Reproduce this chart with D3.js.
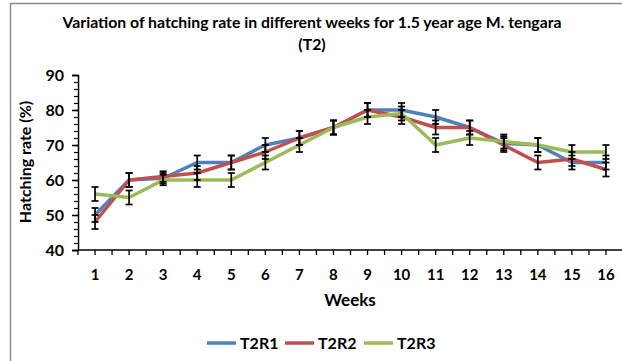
<!DOCTYPE html>
<html>
<head>
<meta charset="utf-8">
<script src="https://cdnjs.cloudflare.com/ajax/libs/d3/7.8.5/d3.min.js"></script>
<style>
  body { margin: 0; background: #fff; }
  svg { display: block; font-family: Lato, "Open Sans", sans-serif; }
</style>
</head>
<body>
<svg id="chart" width="622" height="361"></svg>
<script>
const weeks = [1, 2, 3, 4, 5, 6, 7, 8, 9, 10, 11, 12, 13, 14, 15, 16];
const seriesNames = ['T2R1', 'T2R2', 'T2R3'];
const t2r1 = [50, 60, 60.5, 65, 65, 70, 72, 75, 80, 80, 78, 75, 70.5, 70, 65, 65];
const t2r2 = [48, 60, 61, 62, 65, 68, 72, 75, 80, 78, 75, 75, 70, 65, 66, 63];
const t2r3 = [56, 55, 60, 60, 60, 65, 70, 75, 78, 79, 70, 72, 71, 70, 68, 68];
const t2r1Err = [2, 2, 1.5, 2, 2, 2, 2, 2, 2, 2, 2, 2, 2, 2, 2, 2];
const t2r2Err = [2, 2, 1.5, 2, 2, 2, 2, 2, 2, 2, 2, 2, 2, 2, 2, 2];
const t2r3Err = [2, 2, 1.5, 2, 2, 2, 2, 2, 2, 2, 2, 2, 2, 2, 2, 2];
const yTicks = [40, 50, 60, 70, 80, 90];
const colors = ['#4F81BD', '#C0504D', '#9BBB59'];

const series = [
    { name: seriesNames[0], values: t2r1, err: t2r1Err, color: colors[0] },
    { name: seriesNames[1], values: t2r2, err: t2r2Err, color: colors[1] },
    { name: seriesNames[2], values: t2r3, err: t2r3Err, color: colors[2] }
];

const svg = d3.select('#chart');

// chart frame like the excel border
svg.append('rect')
    .attr('x', 10.5).attr('y', 3.5)
    .attr('width', 640).attr('height', 400)
    .attr('fill', 'none')
    .attr('stroke', '#8c8c8c')
    .attr('stroke-width', 1.5);

// title
svg.append('text')
    .attr('x', 312).attr('y', 28)
    .attr('text-anchor', 'middle')
    .style('font-size', '15.8px').style('font-weight', 'bold')
    .text('Variation of hatching rate in different weeks for 1.5 year age M. tengara');
svg.append('text')
    .attr('x', 312).attr('y', 50)
    .attr('text-anchor', 'middle')
    .style('font-size', '15.8px').style('font-weight', 'bold')
    .text('(T2)');

// scales
const x = d3.scaleBand()
    .domain(weeks)
    .range([78, 623]);

const y = d3.scaleLinear()
    .domain([40, 90])
    .range([250, 75]);

// y axis with minor ticks
const yMinor = d3.axisLeft(y)
    .tickValues(d3.range(40, 91, 2))
    .tickSize(4)
    .tickFormat('');
svg.append('g')
    .attr('transform', 'translate(78,0)')
    .call(yMinor)
    .call(g => g.select('.domain').remove())
    .selectAll('line').attr('stroke', '#000').attr('stroke-width', 1.2);

const yAxis = d3.axisLeft(y)
    .tickValues(yTicks)
    .tickSize(6)
    .tickPadding(8);
const yg = svg.append('g')
    .attr('transform', 'translate(78,0)')
    .call(yAxis);
yg.select('.domain').attr('stroke', '#000').attr('stroke-width', 1.5);
yg.selectAll('line').attr('stroke', '#000').attr('stroke-width', 1.5);
yg.selectAll('text')
    .style('font-family', 'Lato, sans-serif')
    .style('font-size', '16px').style('font-weight', 'bold')
    .attr('fill', '#000');

// x axis: ticks at category edges and centres
const xEdges = weeks.map(w => x(w)).concat([x.range()[1]]);
const xCentres = weeks.map(w => x(w) + x.bandwidth() / 2);
const xg = svg.append('g').attr('transform', 'translate(0,250)');
xg.append('line')
    .attr('x1', 78).attr('x2', 623)
    .attr('stroke', '#000').attr('stroke-width', 1.5);
xg.selectAll('line.tick')
    .data(xEdges.concat(xCentres))
    .enter().append('line')
    .attr('class', 'tick')
    .attr('x1', d => d).attr('x2', d => d)
    .attr('y1', 0).attr('y2', 5)
    .attr('stroke', '#000').attr('stroke-width', 1.3);
xg.selectAll('text')
    .data(weeks)
    .enter().append('text')
    .attr('x', d => x(d) + x.bandwidth() / 2)
    .attr('y', 30)
    .attr('text-anchor', 'middle')
    .style('font-size', '15px').style('font-weight', 'bold')
    .text(d => d);

// axis titles
svg.append('text')
    .attr('x', 350).attr('y', 306)
    .attr('text-anchor', 'middle')
    .style('font-size', '17px').style('font-weight', 'bold')
    .text('Weeks');
svg.append('text')
    .attr('transform', 'translate(31,162) rotate(-90)')
    .attr('text-anchor', 'middle')
    .style('font-size', '16px').style('font-weight', 'bold')
    .text('Hatching rate (%)');

// lines
const line = d3.line()
    .x((d, i) => x(weeks[i]) + x.bandwidth() / 2)
    .y(d => y(d));

series.forEach(s => {
    svg.append('path')
        .datum(s.values)
        .attr('d', line)
        .attr('fill', 'none')
        .attr('stroke', s.color)
        .attr('stroke-width', 3.5)
        .attr('stroke-linejoin', 'round');
});

// error bars
series.forEach(s => {
    const g = svg.append('g').attr('stroke', '#000').attr('stroke-width', 1.7);
    s.values.forEach((v, i) => {
        const cx = x(weeks[i]) + x.bandwidth() / 2;
        const top = y(v + s.err[i]);
        const bot = y(v - s.err[i]);
        g.append('line').attr('x1', cx).attr('x2', cx).attr('y1', top).attr('y2', bot);
        g.append('line').attr('x1', cx - 3.5).attr('x2', cx + 3.5).attr('y1', top).attr('y2', top);
        g.append('line').attr('x1', cx - 3.5).attr('x2', cx + 3.5).attr('y1', bot).attr('y2', bot);
    });
});

// legend
const legendX = [207, 285, 364];
const legend = svg.append('g').attr('transform', 'translate(0,343)');
series.forEach((s, i) => {
    legend.append('line')
        .attr('x1', legendX[i]).attr('x2', legendX[i] + 29)
        .attr('stroke', s.color).attr('stroke-width', 3.5);
    legend.append('text')
        .attr('x', legendX[i] + 33).attr('y', 6)
        .style('font-size', '16px').style('font-weight', 'bold')
        .text(s.name);
});
</script>
</body>
</html>
